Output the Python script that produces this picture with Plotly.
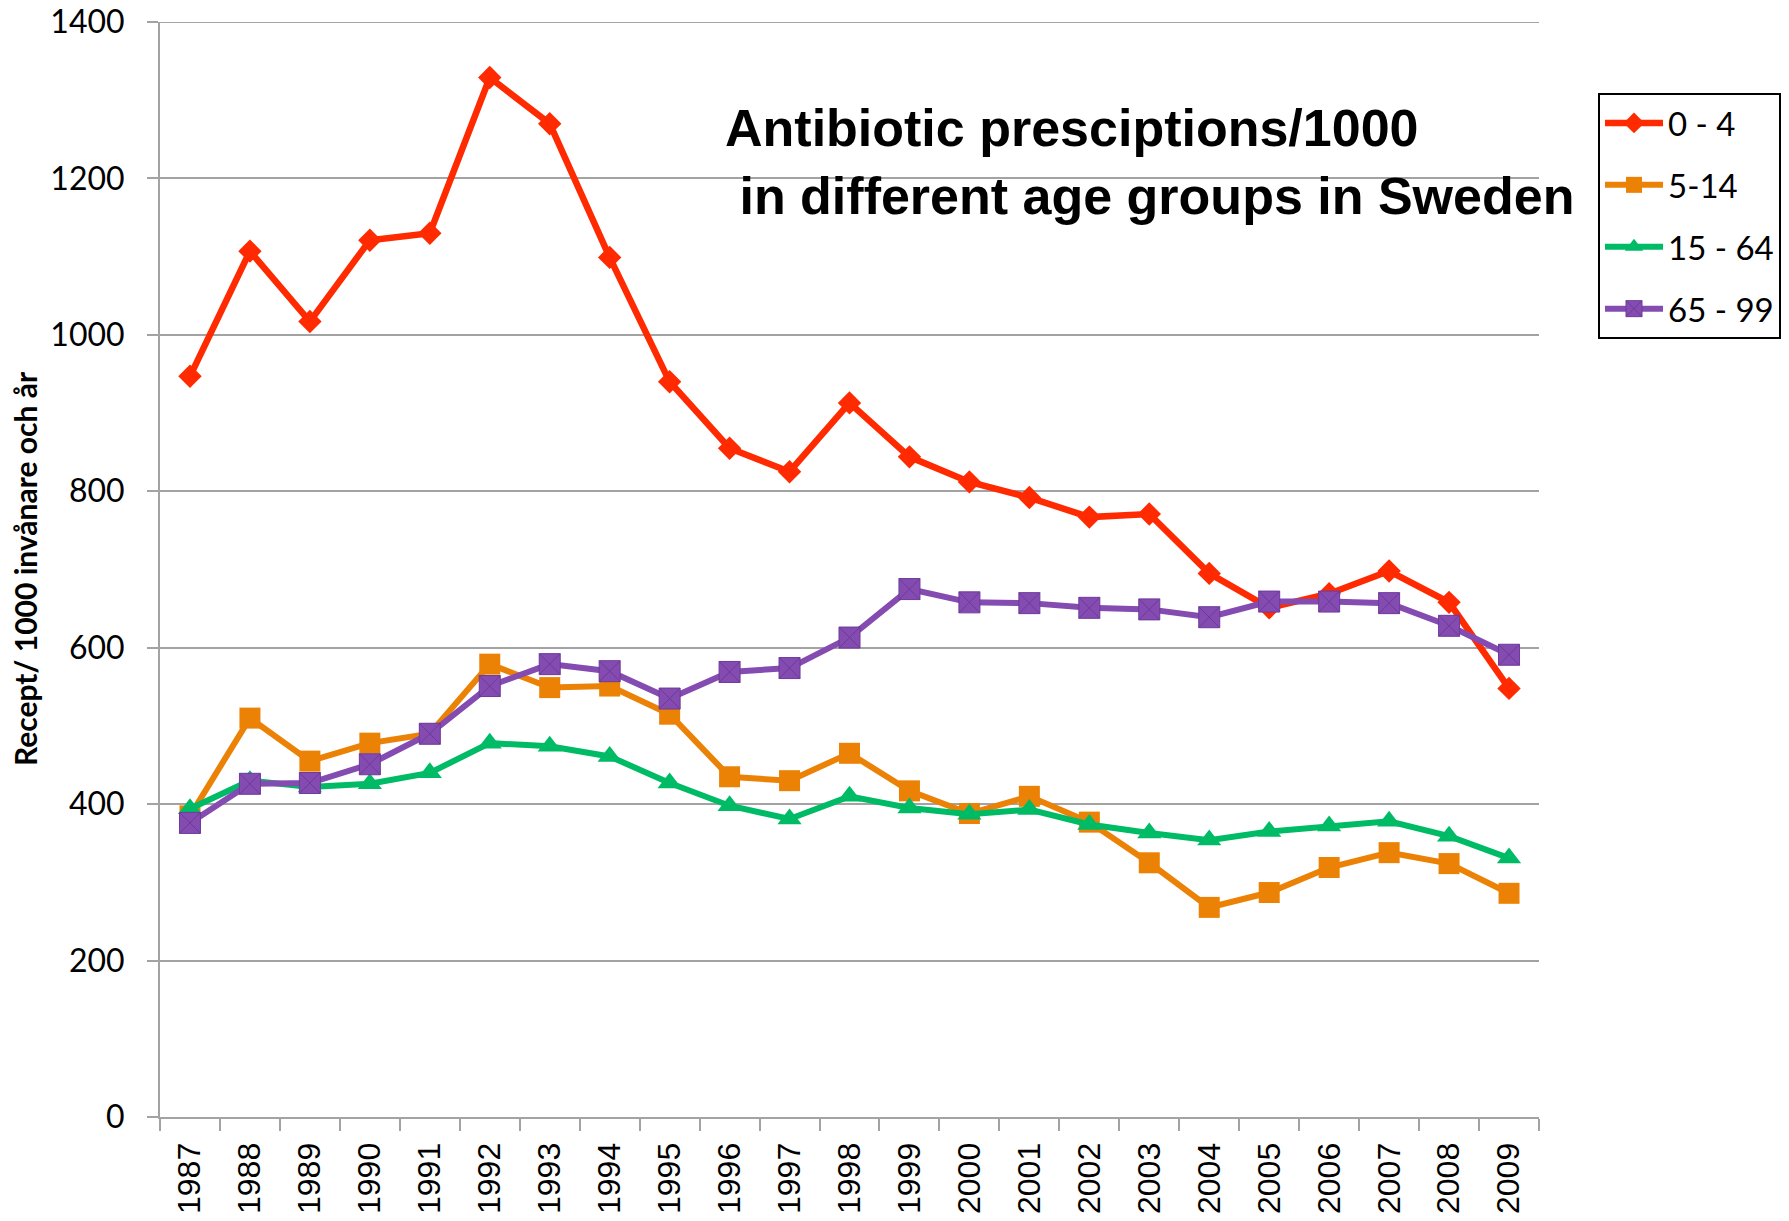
import plotly.graph_objects as go

years = [str(y) for y in range(1987, 2010)]
age_0_4 = [947, 1107, 1017, 1121, 1130, 1329, 1270, 1099, 940, 855, 825, 913, 844, 812, 792, 767, 771, 695, 651, 669, 698, 658, 548]
age_5_14 = [385, 510, 455, 478, 490, 579, 549, 551, 515, 435, 430, 465, 417, 388, 410, 377, 325, 268, 287, 319, 338, 324, 286]
age_15_64 = [394, 430, 422, 426, 440, 478, 474, 461, 427, 398, 381, 410, 395, 387, 393, 374, 363, 354, 365, 372, 378, 359, 331]
age_65_99 = [376, 426, 427, 451, 490, 551, 579, 570, 535, 569, 574, 613, 675, 658, 657, 651, 649, 639, 659, 659, 657, 628, 591]
series_names = ["0 - 4", "5-14", "15 - 64", "65 - 99"]
y_ticks = [0, 200, 400, 600, 800, 1000, 1200, 1400]

W, H = 1789, 1221
OFF = 8  # page body margin offset
# target screen geometry of the plot area
SL, SR, ST, SB = 160, 1539, 22, 1117
L, T = SL - OFF, ST - OFF
R = W - (SR - OFF)
B = H - (SB - OFF)
pw, ph = W - L - R, H - T - B

def px_x(sx):
    return (sx - OFF - L) / pw

def px_y(sy):
    return (H - B - (sy - OFF)) / ph

styles = [
    dict(color="#FF2A00", symbol="diamond", size=18, width=6.5, lc="#FF2A00", lw=0),
    dict(color="#EB8205", symbol="square", size=21, width=6, lc="#EB8205", lw=0),
    dict(color="#00BB66", symbol="triangle-up", size=21, width=6, lc="#00BB66", lw=0),
    dict(color="#844BB0", symbol="square-x", size=21, width=6, lc="#6E3A9A", lw=1),
]

fig = go.Figure()
for name, vals, st in zip(series_names, [age_0_4, age_5_14, age_15_64, age_65_99], styles):
    fig.add_trace(go.Scatter(
        x=years, y=vals, name=name, mode="lines+markers", legendgroup=name,
        line=dict(color=st["color"], width=st["width"]),
        marker=dict(symbol=st["symbol"], size=st["size"], color=st["color"],
                    line=dict(color=st["lc"], width=st["lw"])),
    ))

grid = "#A3A3A3"
title_font = dict(family="Liberation Sans, Arial, sans-serif", size=52, color="black", weight="bold")
fig.update_layout(
    width=W, height=H,
    margin=dict(l=L, r=R, t=T, b=B, autoexpand=False),
    plot_bgcolor="white", paper_bgcolor="white",
    showlegend=True,
    legend=dict(
        x=px_x(1598), y=px_y(93), xanchor="left", yanchor="top",
        bordercolor="black", borderwidth=2, bgcolor="white",
        font=dict(family="Lato", size=33, color="black"),
        traceorder="grouped", tracegroupgap=16, itemwidth=58,
    ),
    xaxis=dict(
        type="category", range=[-0.5, 22.5],
        showline=True, linecolor=grid, linewidth=2,
        ticks="outside", ticklen=12, tickwidth=2, tickcolor=grid,
        tickson="boundaries", tickangle=-90,
        showgrid=False,
        tickfont=dict(family="Liberation Sans", size=32, color="black"),
        ticklabelstandoff=11,
    ),
    yaxis=dict(
        range=[0, 1400], tickvals=y_ticks, ticktext=[str(v) for v in y_ticks],
        showline=True, linecolor=grid, linewidth=2,
        ticks="outside", ticklen=11, tickwidth=2, tickcolor=grid,
        showgrid=True, gridcolor=grid, gridwidth=2,
        zeroline=False,
        tickfont=dict(family="Lato", size=32, color="black"),
        ticklabelstandoff=16, ticklabeloverflow="allow",
    ),
    shapes=[
        dict(type="line", xref="paper", yref="y", x0=0, x1=1, y0=1400, y1=1400,
             line=dict(color=grid, width=2), layer="below"),
    ],
    annotations=[
        dict(text="Antibiotic presciptions/1000", xref="paper", yref="paper",
             x=px_x(723), y=px_y(128), xanchor="left", yanchor="middle", showarrow=False,
             font=title_font),
        dict(text="\u00a0in different age groups in Sweden", xref="paper", yref="paper",
             x=px_x(723), y=px_y(196), xanchor="left", yanchor="middle", showarrow=False,
             font=title_font),
        dict(text="Recept/ 1000 invånare och år", xref="paper", yref="paper",
             x=px_x(25), y=px_y(569), xanchor="center", yanchor="middle", textangle=-90, showarrow=False,
             font=dict(family="Lato", size=30, color="black", weight="bold")),
    ],
)

fig.write_html("out.html")
